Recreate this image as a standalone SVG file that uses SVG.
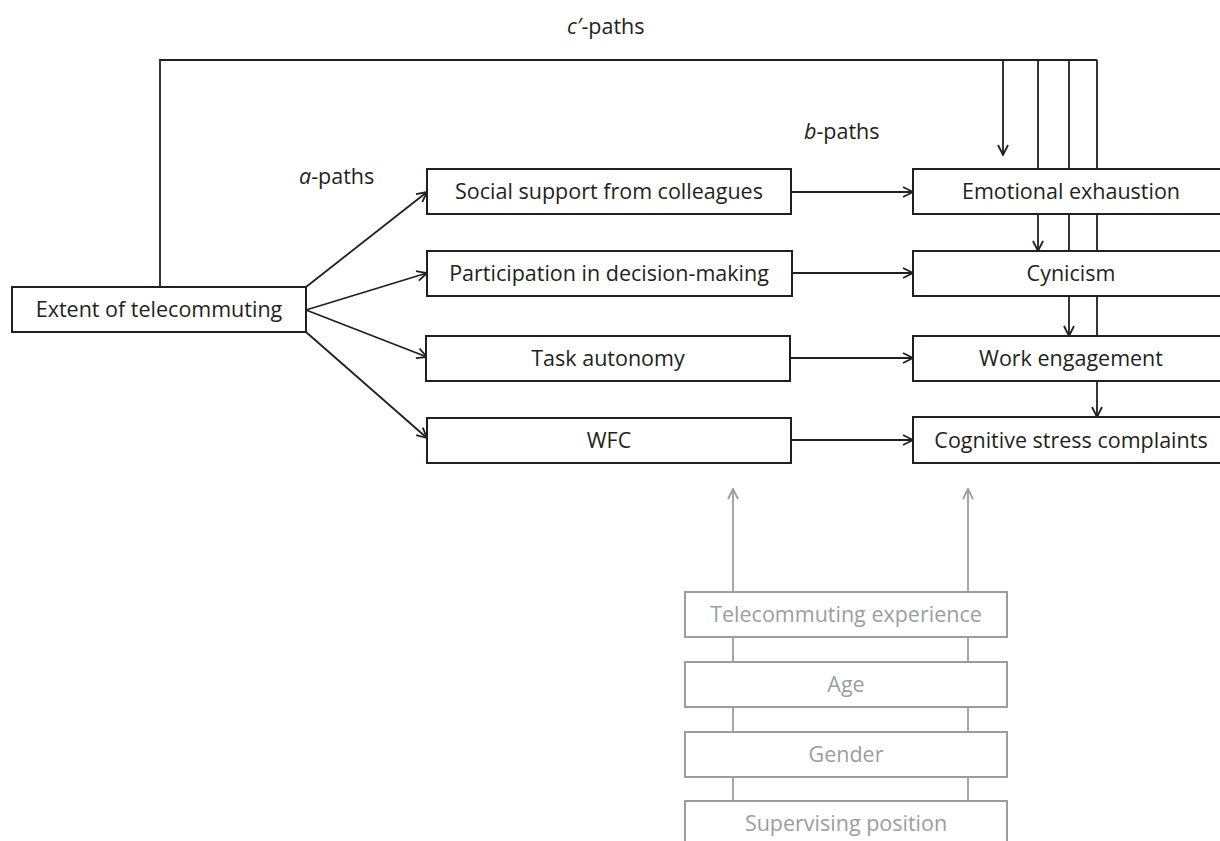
<svg xmlns="http://www.w3.org/2000/svg" width="1220" height="841" viewBox="0 0 1220 841">
<style>
.box{fill:#fff;stroke:#231f20;stroke-width:2}
.gbox{fill:#fff;stroke:#9d9d9d;stroke-width:2}
.t{font-family:"Open Sans","Noto Sans",sans-serif;font-size:21.5px;fill:#231f20;text-anchor:middle}
.gt{font-family:"Open Sans","Noto Sans",sans-serif;font-size:21.5px;fill:#9d9d9d;text-anchor:middle}
.lbl{font-family:"Open Sans","Noto Sans",sans-serif;font-size:21.5px;fill:#231f20}
.c{fill:none;stroke:#231f20;stroke-width:1.8}
.gc{fill:none;stroke:#9d9d9d;stroke-width:1.8}
</style>
<defs>
<marker id="ah" viewBox="0 0 12 12" refX="11" refY="6" markerWidth="12" markerHeight="12" markerUnits="userSpaceOnUse" orient="auto">
<path d="M1,1 L11,6 L1,11" fill="none" stroke="#231f20" stroke-width="1.8"/>
</marker>
<marker id="gah" viewBox="0 0 12 12" refX="11" refY="6" markerWidth="12" markerHeight="12" markerUnits="userSpaceOnUse" orient="auto">
<path d="M1,1 L11,6 L1,11" fill="none" stroke="#9d9d9d" stroke-width="1.8"/>
</marker>
</defs>
<rect width="1220" height="841" fill="#fff"/>
<g id="connectors">
<path class="c" d="M160,287 L160,60 L1097,60"/>
<path class="c" d="M1003,60 L1003,155" marker-end="url(#ah)"/>
<path class="c" d="M1038,60 L1038,169 M1069,60 L1069,169 M1097,60 L1097,169"/>
<path class="c" d="M1038,214 L1038,251" marker-end="url(#ah)"/>
<path class="c" d="M1069,214 L1069,251 M1097,214 L1097,251"/>
<path class="c" d="M1069,296 L1069,336" marker-end="url(#ah)"/>
<path class="c" d="M1097,296 L1097,336"/>
<path class="c" d="M1097,381 L1097,417" marker-end="url(#ah)"/>
<path class="c" d="M306,287 L427,192" marker-end="url(#ah)"/>
<path class="c" d="M306,310 L427,273" marker-end="url(#ah)"/>
<path class="c" d="M306,310 L427,357" marker-end="url(#ah)"/>
<path class="c" d="M306,332 L427,438" marker-end="url(#ah)"/>
<path class="c" d="M791,192 L913,192" marker-end="url(#ah)"/>
<path class="c" d="M792,273 L913,273" marker-end="url(#ah)"/>
<path class="c" d="M790,358 L913,358" marker-end="url(#ah)"/>
<path class="c" d="M791,440 L913,440" marker-end="url(#ah)"/>
<path class="gc" d="M733,592 L733,489" marker-end="url(#gah)"/>
<path class="gc" d="M968,592 L968,489" marker-end="url(#gah)"/>
<path class="gc" d="M733,637 L733,662 M968,637 L968,662 M733,707 L733,732 M968,707 L968,732 M733,777 L733,801 M968,777 L968,801"/>
</g>
<g id="labels">
<text class="lbl" x="567" y="34"><tspan font-style="italic">c′</tspan>-paths</text>
<text class="lbl" x="804" y="139"><tspan font-style="italic">b</tspan>-paths</text>
<text class="lbl" x="299" y="184"><tspan font-style="italic">a</tspan>-paths</text>
</g>
<g id="extent"><rect class="box" x="12" y="287" width="294" height="45"/><text class="t" x="159" y="317">Extent of telecommuting</text></g>
<g id="social"><rect class="box" x="427" y="169" width="364" height="45"/><text class="t" x="609" y="199">Social support from colleagues</text></g>
<g id="participation"><rect class="box" x="427" y="251" width="365" height="45"/><text class="t" x="609" y="281">Participation in decision-making</text></g>
<g id="task"><rect class="box" x="426" y="336" width="364" height="45"/><text class="t" x="608" y="366">Task autonomy</text></g>
<g id="wfc"><rect class="box" x="427" y="418" width="364" height="45"/><text class="t" x="609" y="448">WFC</text></g>
<g id="emotional"><rect class="box" x="913" y="169" width="320" height="45"/><text class="t" x="1071" y="199">Emotional exhaustion</text></g>
<g id="cynicism"><rect class="box" x="913" y="251" width="320" height="45"/><text class="t" x="1071" y="281">Cynicism</text></g>
<g id="engagement"><rect class="box" x="913" y="336" width="320" height="45"/><text class="t" x="1071" y="366">Work engagement</text></g>
<g id="cognitive"><rect class="box" x="913" y="417" width="320" height="46"/><text class="t" x="1071" y="448">Cognitive stress complaints</text></g>
<g id="experience"><rect class="gbox" x="685" y="592" width="322" height="45"/><text class="gt" x="846" y="622">Telecommuting experience</text></g>
<g id="age"><rect class="gbox" x="685" y="662" width="322" height="45"/><text class="gt" x="846" y="692">Age</text></g>
<g id="gender"><rect class="gbox" x="685" y="732" width="322" height="45"/><text class="gt" x="846" y="762">Gender</text></g>
<g id="supervising"><rect class="gbox" x="685" y="801" width="322" height="50"/><text class="gt" x="846" y="831">Supervising position</text></g>
</svg>
